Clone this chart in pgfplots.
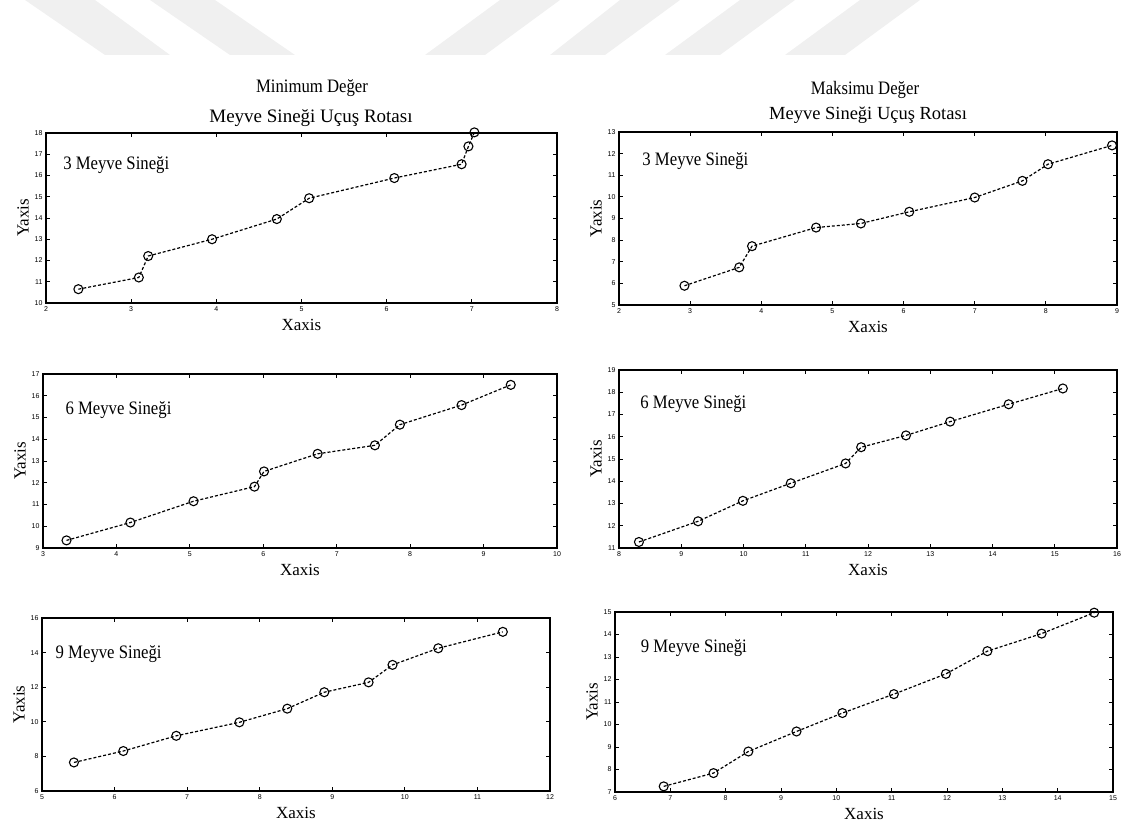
\documentclass[border=0pt]{standalone}
\usepackage{fontspec}
\setmainfont{Liberation Serif}
\setsansfont{Liberation Sans}
\newfontfamily\narrowserif[FakeStretch=0.88]{Liberation Serif}
\usepackage{pgfplots}
\pgfplotsset{compat=1.18}
\pgfplotsset{
  fly/.style={
    anchor=south west, scale only axis, clip=false,
    axis line style={line width=1.1pt},
    tick style={line width=0.9pt, black},
    major tick length=4pt,
    tick align=inside,
    ticklabel style={font=\sffamily\fontsize{7}{7}\selectfont},
    /pgf/number format/assume math mode=true,
    xlabel={Xaxis}, ylabel={Yaxis},
    label style={font=\fontsize{17}{17}\selectfont},
    xlabel style={yshift=-1pt},
    ylabel style={yshift=-1pt},
  },
}
\tikzset{flylabel/.style={anchor=west, font=\narrowserif\fontsize{19}{19}\selectfont},
  flyplot/.style={black, line width=1.2pt, dash pattern=on 3pt off 2pt,
      mark=o, mark size=4.5pt, mark options={solid, line width=1.1pt, fill=none}}}
\begin{document}
\begin{tikzpicture}
\useasboundingbox (0,0) rectangle (1124pt,832pt);
% watermark stripes
\begin{scope}[fill=black!6, draw=none]
\fill (25pt,832pt) -- (95pt,832pt) -- (170pt,777pt) -- (105pt,777pt) -- cycle;
\fill (150pt,832pt) -- (215pt,832pt) -- (295pt,777pt) -- (230pt,777pt) -- cycle;
\fill (500pt,832pt) -- (560pt,832pt) -- (485pt,777pt) -- (425pt,777pt) -- cycle;
\fill (620pt,832pt) -- (680pt,832pt) -- (605pt,777pt) -- (550pt,777pt) -- cycle;
\fill (740pt,832pt) -- (795pt,832pt) -- (720pt,777pt) -- (665pt,777pt) -- cycle;
\fill (860pt,832pt) -- (920pt,832pt) -- (845pt,777pt) -- (785pt,777pt) -- cycle;
\end{scope}
% titles
\node[font=\narrowserif\fontsize{19}{19}\selectfont] at (312pt,744pt) {Minimum Değer};
\node[font=\fontsize{19}{19}\selectfont] at (311pt,714pt) {Meyve Sineği Uçuş Rotası};
\node[font=\narrowserif\fontsize{19}{19}\selectfont] at (865pt,742pt) {Maksimu Değer};
\node[font=\fontsize{18.5}{19}\selectfont] at (868pt,717pt) {Meyve Sineği Uçuş Rotası};

% Panel 1
\begin{axis}[fly, at={(46pt,529pt)}, width=511pt, height=170pt,
  xmin=2, xmax=8, ymin=10, ymax=18, xtick={2,...,8}, ytick={10,...,18}]
\addplot[flyplot] coordinates {(2.38,10.65) (3.09,11.20) (3.20,12.21) (3.95,13.00) (4.71,13.95)
 (5.09,14.93) (6.09,15.88) (6.88,16.53) (6.96,17.37) (7.03,18.03)};
\node[flylabel] at (rel axis cs:0.027,0.81) {3 Meyve Sineği};
\end{axis}

% Panel 2
\begin{axis}[fly, at={(619pt,527pt)}, width=498pt, height=173pt,
  xmin=2, xmax=9, ymin=5, ymax=13, xtick={2,...,9}, ytick={5,...,13}]
\addplot[flyplot] coordinates {(2.92,5.89) (3.69,6.74) (3.87,7.72) (4.77,8.58) (5.40,8.77)
 (6.08,9.31) (7.00,9.97) (7.67,10.74) (8.03,11.51) (8.93,12.38)};
\node[flylabel] at (rel axis cs:0.04,0.83) {3 Meyve Sineği};
\end{axis}

% Panel 3
\begin{axis}[fly, at={(43pt,284pt)}, width=514pt, height=174pt,
  xmin=3, xmax=10, ymin=9, ymax=17, xtick={3,...,10}, ytick={9,...,17}]
\addplot[flyplot] coordinates {(3.32,9.35) (4.19,10.17) (5.05,11.15) (5.88,11.82) (6.01,12.52)
 (6.74,13.33) (7.52,13.72) (7.86,14.67) (8.70,15.57) (9.37,16.50)};
\node[flylabel] at (rel axis cs:0.037,0.79) {6 Meyve Sineği};
\end{axis}

% Panel 4
\begin{axis}[fly, at={(619pt,284pt)}, width=498pt, height=178pt,
  xmin=8, xmax=16, ymin=11, ymax=19, xtick={8,...,16}, ytick={11,...,19}]
\addplot[flyplot] coordinates {(8.32,11.27) (9.27,12.20) (9.99,13.12) (10.76,13.91) (11.64,14.80)
 (11.89,15.53) (12.61,16.06) (13.32,16.68) (14.26,17.46) (15.13,18.17)};
\node[flylabel] at (rel axis cs:0.036,0.81) {6 Meyve Sineği};
\end{axis}

% Panel 5
\begin{axis}[fly, at={(42pt,41pt)}, width=508pt, height=173pt,
  xmin=5, xmax=12, ymin=6, ymax=16, xtick={5,...,12}, ytick={6,8,...,16}]
\addplot[flyplot] coordinates {(5.44,7.65) (6.12,8.31) (6.85,9.19) (7.72,9.97) (8.38,10.76)
 (8.89,11.71) (9.50,12.28) (9.83,13.29) (10.46,14.25) (11.35,15.20)};
\node[flylabel] at (rel axis cs:0.02,0.79) {9 Meyve Sineği};
\end{axis}

% Panel 6
\begin{axis}[fly, at={(615pt,40pt)}, width=498pt, height=180pt,
  xmin=6, xmax=15, ymin=7, ymax=15, xtick={6,...,15}, ytick={7,...,15}]
\addplot[flyplot] coordinates {(6.88,7.25) (7.78,7.84) (8.41,8.80) (9.28,9.69) (10.11,10.51)
 (11.04,11.35) (11.98,12.25) (12.73,13.26) (13.71,14.04) (14.66,14.97)};
\node[flylabel] at (rel axis cs:0.045,0.80) {9 Meyve Sineği};
\end{axis}
\end{tikzpicture}
\end{document}
